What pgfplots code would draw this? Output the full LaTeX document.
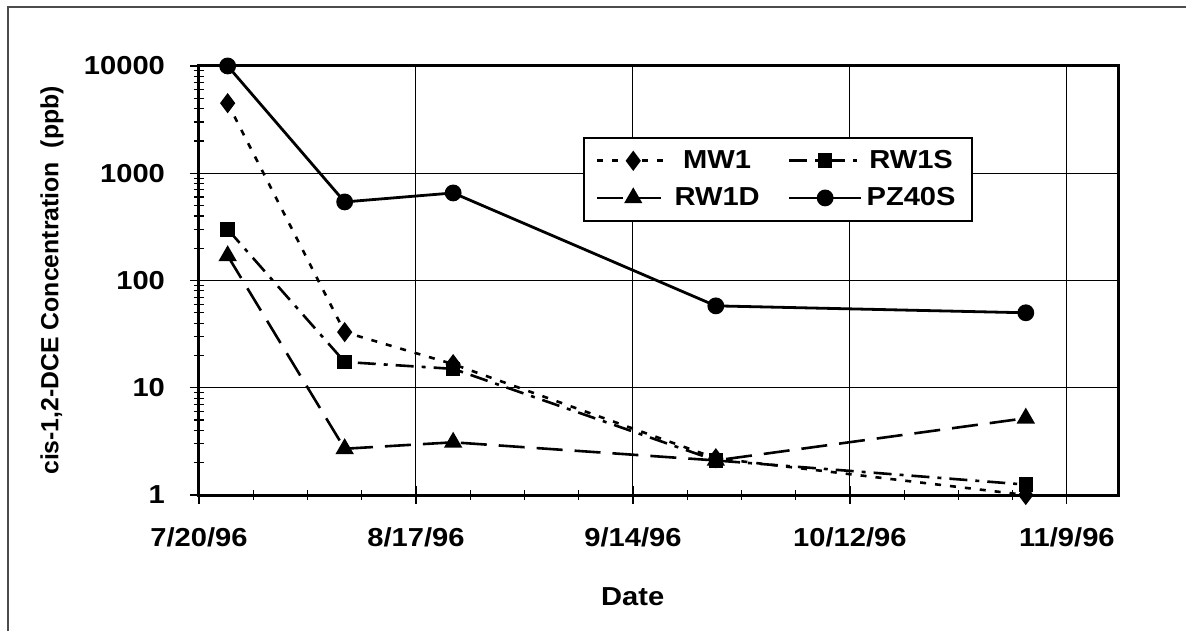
\documentclass[border=0pt]{standalone}
\usepackage{fontspec}
\setmainfont[FakeStretch=1.12]{Liberation Sans}
\newfontfamily\ylfont{Liberation Sans}
\usepackage{pgfplots}
\pgfplotsset{compat=1.18}
\newcommand{\lbl}{\fontsize{13}{15}\selectfont\bfseries}
\newcommand{\ylbl}{\ylfont\fontsize{12.4}{14}\selectfont\bfseries}
\begin{document}
\begin{tikzpicture}[x=1pt,y=1pt]
\useasboundingbox (-99.5,-68) rectangle (493.5,247.5);
\draw[black!70, line width=0.6pt] (-95.5,-68) -- (-95.5,244) -- (493.5,244);
\begin{axis}[
  at={(0,0)}, anchor=south west, scale only axis,
  width=459.5pt, height=214.5pt,
  xmin=0, xmax=118.6,
  ymode=log, ymin=1, ymax=10000,
  xtick={0,28,56,84,112},
  xticklabels={7/20/96,8/17/96,9/14/96,10/12/96,11/9/96},
  minor xtick={7,14,21,35,42,49,63,70,77,91,98,105},
  ytick={1,10,100,1000,10000},
  yticklabels={1,10,100,1000,10000},
  tick pos=left,
  grid=major,
  major grid style={black, line width=0.5pt},
  axis line style={black, line width=1.5pt},
  tick style={black, line width=0.6pt},
  tick align=center, major tick length=9pt, minor tick length=5pt,
  every tick label/.append style={font=\lbl},
  xticklabel style={anchor=north, yshift=-8.5pt},
  yticklabel style={anchor=east, xshift=-9pt},
  xlabel={Date}, ylabel={cis-1,2-DCE Concentration\ \ (ppb)},
  xlabel style={font=\lbl, at={(axis description cs:0.472,0)}, anchor=center, yshift=-51pt},
  ylabel style={font=\ylbl, at={(axis description cs:-0.16,0.5)}, anchor=center},
  legend columns=2,
  legend style={at={(0.4178,0.834)}, anchor=north west, draw=black, line width=1pt,
    font=\lbl, inner xsep=6pt, inner ysep=4pt, row sep=4pt,
    /tikz/every even column/.append style={column sep=12pt}},
  legend image code/.code={\draw[mark repeat=2,mark phase=2] plot coordinates {(0pt,0pt)(18pt,0pt)(36pt,0pt)};},
]
\addplot[black, line width=1.3pt, dash pattern=on 3pt off 4.5pt, mark=diamond*, mark size=4pt, mark options={solid}]
  coordinates {(3.7,4500) (18.8,33) (32.8,16.6) (66.7,2.2) (106.7,1.0)};
\addlegendentry{MW1}
\addplot[black, line width=1.3pt, dash pattern=on 9pt off 4pt on 2pt off 4pt, mark=square*, mark size=3pt, mark options={solid}]
  coordinates {(3.7,300) (18.8,17.4) (32.8,15) (66.7,2.1) (106.7,1.25)};
\addlegendentry{RW1S}
\addplot[black, line width=1.3pt, dash pattern=on 13pt off 6pt, mark=triangle*, mark size=4pt, mark options={solid}]
  coordinates {(3.7,170) (18.8,2.7) (32.8,3.1) (66.7,2.1) (106.7,5.2)};
\addlegendentry{RW1D}
\addplot[black, line width=1.4pt, mark=*, mark size=3.5pt]
  coordinates {(3.7,10000) (18.8,540) (32.8,655) (66.7,58) (106.7,50)};
\addlegendentry{PZ40S}
\end{axis}
\end{tikzpicture}
\end{document}
